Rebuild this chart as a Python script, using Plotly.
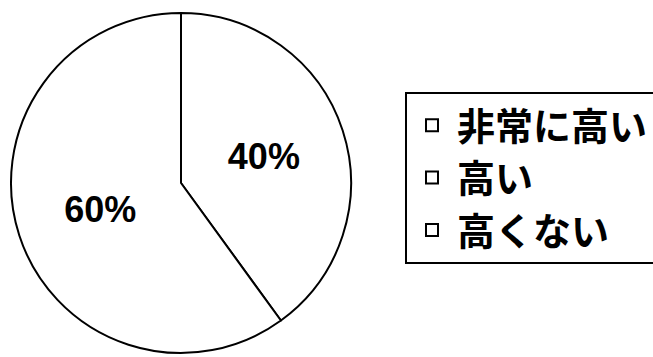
import plotly.graph_objects as go

# Survey response shares
labels = ["非常に高い", "高い", "高くない"]
values = [0, 40, 60]

fig = go.Figure(
    go.Pie(
        labels=labels,
        values=values,
        sort=False,
        direction="clockwise",
        rotation=0,
        marker=dict(colors=["white"] * len(labels), line=dict(color="black", width=2)),
        textinfo="percent",
        texttemplate="%{percent:.0%}",
        textposition="inside",
        insidetextorientation="horizontal",
        textfont=dict(family="Liberation Sans, Arial, sans-serif", size=36, color="black", weight="bold"),
        domain=dict(x=[10 / 653, 352 / 653], y=[4 / 357, 344 / 357]),
        showlegend=True,
    )
)

fig.update_layout(
    width=653,
    height=357,
    margin=dict(l=0, r=0, t=0, b=0, autoexpand=False),
    paper_bgcolor="white",
    plot_bgcolor="white",
    legend=dict(
        x=405 / 653,
        y=(357 - 92) / 357,
        xanchor="left",
        yanchor="top",
        bordercolor="black",
        borderwidth=2,
        itemwidth=40,
        font=dict(family="Noto Sans CJK JP", size=38, color="black", weight="bold"),
        itemclick=False,
    ),
)

fig.write_html("out.html")
